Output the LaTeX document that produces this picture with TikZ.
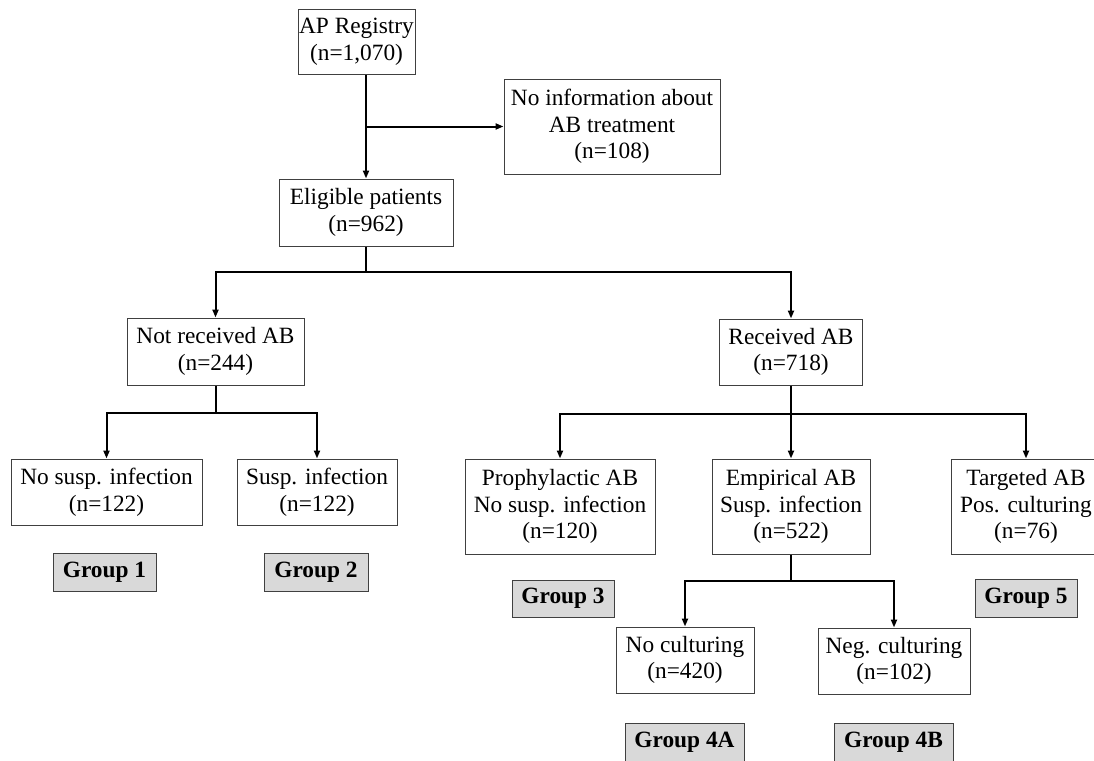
\documentclass[tikz,border=0pt]{standalone}
\usepackage{fontspec}
\setmainfont{Liberation Serif}
\usetikzlibrary{arrows.meta}
\begin{document}
\begin{tikzpicture}[x=0.75pt,y=-0.75pt,
    box/.style={draw=black!75, line width=0.75pt, fill=white, inner sep=0pt, align=center,
      font=\fontsize{17.5}{20}\selectfont},
    grp/.style={box, fill=black!15, font=\bfseries\fontsize{17.5}{20}\selectfont},
    conn/.style={line width=1.5pt},
    arr/.style={conn, -{Triangle[length=6pt,width=4.5pt]}}]
      \clip (0,0) rectangle (1094,760);
      \draw
        (356.5,41.5) node[box, minimum width=87.75pt, minimum height=48.75pt] (reg) {AP Registry\\(n=1,070)}
        (612,126.5) node[box, minimum width=162pt, minimum height=71.25pt] (info) {No information about\\AB treatment\\(n=108)}
        (366,212.5) node[box, minimum width=130.5pt, minimum height=50.25pt] (elig) {Eligible patients\\(n=962)}
        (215.5,351.5) node[box, minimum width=132.75pt, minimum height=50.25pt] (norec) {Not received AB\\(n=244)}
        (791,352) node[box, minimum width=107.25pt, minimum height=49.5pt] (rec) {Received AB\\(n=718)}
        (106.5,492) node[box, minimum width=143.25pt, minimum height=49.5pt] (nosusp) {No susp. infection\\(n=122)}
        (317,492) node[box, minimum width=120pt, minimum height=49.5pt] (susp) {Susp. infection\\(n=122)}
        (560,506.5) node[box, minimum width=142.5pt, minimum height=71.25pt] (proph) {Prophylactic AB\\No susp. infection\\(n=120)}
        (791,506.5) node[box, minimum width=118.5pt, minimum height=71.25pt] (emp) {Empirical AB\\Susp. infection\\(n=522)}
        (1026,506.5) node[box, minimum width=112.5pt, minimum height=71.25pt] (targ) {Targeted AB\\Pos. culturing\\(n=76)}
        (685,660) node[box, minimum width=103.5pt, minimum height=49.5pt] (nocult) {No culturing\\(n=420)}
        (894,661) node[box, minimum width=114pt, minimum height=49.5pt] (negcult) {Neg. culturing\\(n=102)}
        (104.5,572) node[grp, minimum width=77.25pt, minimum height=28.5pt] (g1) {Group 1}
        (316,572) node[grp, minimum width=78pt, minimum height=28.5pt] (g2) {Group 2}
        (563,598.5) node[grp, minimum width=76.5pt, minimum height=27.75pt] (g3) {Group 3}
        (1026,598) node[grp, minimum width=76.5pt, minimum height=28.5pt] (g5) {Group 5}
        (684.5,742) node[grp, minimum width=89.25pt, minimum height=28.5pt] (g4a) {Group 4A}
        (893.5,742) node[grp, minimum width=89.25pt, minimum height=28.5pt] (g4b) {Group 4B};
      \coordinate (s0) at (elig.north |- info.west);
      \coordinate (s1) at (366,272);
      \coordinate (s2) at (215.5,413);
      \coordinate (s3) at (791,414);
      \coordinate (s4) at (791,581);
      \begin{scope}[arr]
        \draw (reg.south -| elig.north) to (elig.north);
        \draw (s0) to (info.west);
        \draw (s1) -| (norec.north);
        \draw (s1) -| (rec.north);
        \draw (s2) -| (nosusp.north);
        \draw (s2) -| (susp.north);
        \draw (s3) -| (proph.north);
        \draw (s3) to (emp.north);
        \draw (s3) -| (targ.north);
        \draw (s4) -| (nocult.north);
        \draw (s4) -| (negcult.north);
      \end{scope}
      \begin{scope}[conn]
        \draw (elig.south) to (s1);
        \draw (norec.south) to (s2);
        \draw (rec.south) to (s3);
        \draw (emp.south) to (s4);
      \end{scope}
    \end{tikzpicture}
\end{document}
